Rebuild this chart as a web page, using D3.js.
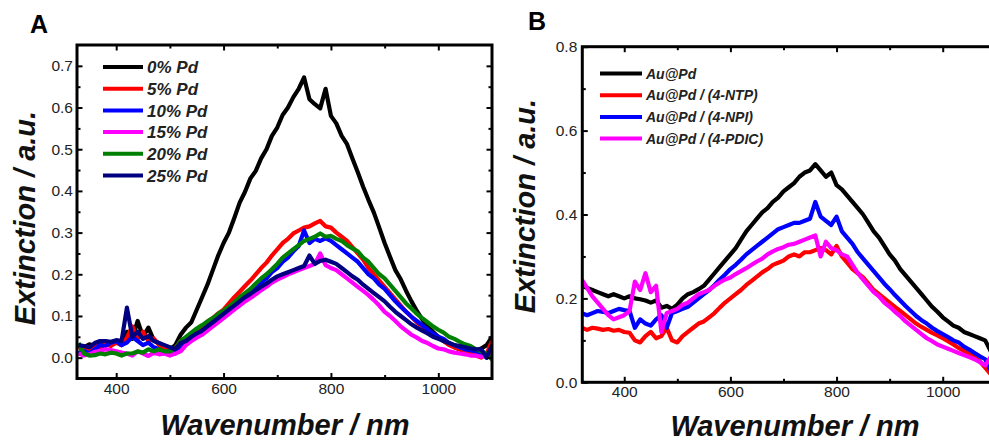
<!DOCTYPE html>
<html>
<head>
<meta charset="utf-8">
<script src="https://cdn.jsdelivr.net/npm/d3@7/dist/d3.min.js"></script>
<style>
  body { margin: 0; background: #fff; }
  svg { display: block; font-family: Arial, "Liberation Sans", sans-serif; }
</style>
</head>
<body>
<div id="chart"></div>
<script>
// panel A: extinction spectra for Au@Pd with growing Pd content
const wavelengthsA = d3.range(330, 1101, 10)
const pd0 = [
  0.030, 0.025, 0.032, 0.028, 0.036, 0.030, 0.034, 0.038, 0.030, 0.062,
  0.045, 0.088, 0.050, 0.072, 0.042, 0.034, 0.024, 0.020, 0.030, 0.055,
  0.072, 0.085, 0.115, 0.145, 0.175, 0.210, 0.245, 0.275, 0.300, 0.335,
  0.372, 0.398, 0.430, 0.448, 0.478, 0.500, 0.532, 0.552, 0.582, 0.600,
  0.625, 0.645, 0.672, 0.620, 0.608, 0.598, 0.645, 0.580, 0.562, 0.532,
  0.512, 0.478, 0.445, 0.410, 0.378, 0.348, 0.312, 0.275, 0.242, 0.210,
  0.188, 0.160, 0.135, 0.112, 0.092, 0.075, 0.062, 0.050, 0.040, 0.032,
  0.025, 0.020, 0.014, 0.012, 0.016, 0.022, 0.030, 0.050
]
const pd5 = [
  0.020, 0.026, 0.020, 0.030, 0.024, 0.032, 0.028, 0.036, 0.030, 0.048,
  0.075, 0.045, 0.062, 0.040, 0.046, 0.030, 0.022, 0.015, 0.022, 0.040,
  0.046, 0.056, 0.066, 0.075, 0.086, 0.095, 0.106, 0.115, 0.130, 0.145,
  0.158, 0.172, 0.185, 0.200, 0.215, 0.228, 0.245, 0.260, 0.275, 0.285,
  0.298, 0.305, 0.312, 0.315, 0.322, 0.328, 0.315, 0.312, 0.300, 0.290,
  0.280, 0.265, 0.250, 0.235, 0.215, 0.200, 0.185, 0.170, 0.155, 0.140,
  0.125, 0.110, 0.098, 0.085, 0.075, 0.065, 0.055, 0.048, 0.040, 0.030,
  0.025, 0.020, 0.015, 0.010, 0.005, 0.000, 0.010, 0.040
]
const pd10 = [
  0.010, 0.016, 0.010, 0.020, 0.030, 0.028, 0.036, 0.040, 0.030, 0.036,
  0.050, 0.040, 0.030, 0.036, 0.025, 0.020, 0.010, 0.016, 0.010, 0.028,
  0.040, 0.046, 0.055, 0.065, 0.072, 0.080, 0.090, 0.100, 0.110, 0.120,
  0.132, 0.145, 0.155, 0.168, 0.180, 0.190, 0.205, 0.215, 0.230, 0.240,
  0.255, 0.268, 0.305, 0.275, 0.285, 0.280, 0.286, 0.280, 0.270, 0.260,
  0.250, 0.240, 0.230, 0.215, 0.200, 0.190, 0.175, 0.165, 0.150, 0.135,
  0.122, 0.110, 0.098, 0.088, 0.078, 0.068, 0.058, 0.050, 0.045, 0.035,
  0.030, 0.025, 0.020, 0.018, 0.015, 0.010, 0.000, 0.020
]
const pd15 = [
  0.010, 0.005, 0.008, 0.014, 0.016, 0.020, 0.018, 0.015, 0.012, 0.010,
  0.005, 0.015, 0.010, 0.004, 0.012, 0.008, 0.010, 0.005, 0.010, 0.015,
  0.030, 0.040, 0.048, 0.055, 0.065, 0.075, 0.085, 0.095, 0.105, 0.115,
  0.125, 0.135, 0.143, 0.152, 0.162, 0.170, 0.180, 0.187, 0.193, 0.200,
  0.205, 0.210, 0.215, 0.220, 0.225, 0.250, 0.222, 0.215, 0.210, 0.200,
  0.190, 0.180, 0.170, 0.160, 0.150, 0.138, 0.125, 0.110, 0.100, 0.088,
  0.075, 0.065, 0.055, 0.048, 0.040, 0.035, 0.028, 0.022, 0.020, 0.015,
  0.012, 0.010, 0.008, 0.005, 0.005, 0.002, 0.005, 0.010
]
const pd20 = [
  0.035, 0.010, 0.005, 0.006, 0.010, 0.008, 0.012, 0.010, 0.005, 0.010,
  0.010, 0.015, 0.012, 0.020, 0.015, 0.020, 0.015, 0.015, 0.022, 0.040,
  0.050, 0.060, 0.070, 0.078, 0.087, 0.095, 0.105, 0.113, 0.122, 0.133,
  0.145, 0.155, 0.165, 0.178, 0.190, 0.200, 0.212, 0.225, 0.240, 0.250,
  0.260, 0.270, 0.280, 0.285, 0.290, 0.298, 0.290, 0.292, 0.285, 0.280,
  0.270, 0.262, 0.255, 0.240, 0.230, 0.215, 0.200, 0.190, 0.175, 0.160,
  0.145, 0.130, 0.118, 0.105, 0.095, 0.085, 0.075, 0.067, 0.060, 0.050,
  0.045, 0.038, 0.032, 0.028, 0.020, 0.015, 0.010, -0.005
]
const pd25 = [
  0.030, 0.028, 0.025, 0.035, 0.040, 0.040, 0.038, 0.042, 0.040, 0.120,
  0.050, 0.062, 0.045, 0.052, 0.040, 0.035, 0.030, 0.025, 0.020, 0.035,
  0.040, 0.050, 0.058, 0.065, 0.075, 0.085, 0.095, 0.105, 0.115, 0.125,
  0.135, 0.145, 0.153, 0.162, 0.170, 0.178, 0.187, 0.195, 0.200, 0.205,
  0.210, 0.215, 0.220, 0.245, 0.225, 0.232, 0.235, 0.230, 0.225, 0.215,
  0.205, 0.195, 0.187, 0.175, 0.165, 0.155, 0.145, 0.135, 0.122, 0.110,
  0.100, 0.090, 0.080, 0.072, 0.065, 0.058, 0.050, 0.045, 0.040, 0.035,
  0.030, 0.028, 0.025, 0.022, 0.020, 0.020, 0.000, 0.030
]
const namesA = ['0% Pd', '5% Pd', '10% Pd', '15% Pd', '20% Pd', '25% Pd']
const colorsA = ['#000000', '#ff0000', '#0000ff', '#ff00ff', '#008000', '#000080']

// panel B: Au@Pd with adsorbed molecules
const wavelengthsB = d3.range(320, 1101, 10)
const auPd = [
  0.230, 0.225, 0.220, 0.215, 0.210, 0.205, 0.210, 0.205, 0.200, 0.205,
  0.200, 0.198, 0.195, 0.190, 0.195, 0.178, 0.182, 0.175, 0.185, 0.200,
  0.210, 0.215, 0.222, 0.230, 0.245, 0.260, 0.275, 0.290, 0.305, 0.320,
  0.340, 0.360, 0.375, 0.390, 0.405, 0.415, 0.430, 0.440, 0.455, 0.465,
  0.475, 0.490, 0.500, 0.505, 0.520, 0.505, 0.490, 0.500, 0.470, 0.460,
  0.445, 0.430, 0.415, 0.400, 0.380, 0.360, 0.345, 0.325, 0.305, 0.290,
  0.270, 0.255, 0.240, 0.225, 0.210, 0.195, 0.180, 0.168, 0.155, 0.145,
  0.135, 0.130, 0.120, 0.115, 0.110, 0.105, 0.100, 0.075, 0.100
]
const auPdNTP = [
  0.130, 0.125, 0.130, 0.128, 0.125, 0.127, 0.123, 0.125, 0.120, 0.118,
  0.100, 0.095, 0.110, 0.120, 0.105, 0.110, 0.130, 0.100, 0.095, 0.110,
  0.120, 0.130, 0.140, 0.145, 0.155, 0.165, 0.178, 0.190, 0.200, 0.210,
  0.220, 0.232, 0.242, 0.252, 0.262, 0.270, 0.280, 0.285, 0.290, 0.300,
  0.305, 0.300, 0.310, 0.310, 0.315, 0.320, 0.315, 0.305, 0.325, 0.300,
  0.285, 0.270, 0.260, 0.250, 0.235, 0.220, 0.210, 0.200, 0.190, 0.180,
  0.170, 0.160, 0.150, 0.140, 0.132, 0.125, 0.118, 0.112, 0.105, 0.098,
  0.090, 0.082, 0.075, 0.068, 0.060, 0.050, 0.035, 0.020, 0.060
]
const auPdNPI = [
  0.165, 0.160, 0.165, 0.170, 0.168, 0.165, 0.170, 0.175, 0.172, 0.170,
  0.130, 0.150, 0.140, 0.135, 0.150, 0.160, 0.130, 0.165, 0.170, 0.175,
  0.180, 0.190, 0.200, 0.210, 0.220, 0.232, 0.245, 0.257, 0.270, 0.280,
  0.292, 0.305, 0.315, 0.325, 0.335, 0.345, 0.355, 0.365, 0.370, 0.375,
  0.380, 0.380, 0.385, 0.390, 0.430, 0.395, 0.385, 0.375, 0.395, 0.360,
  0.345, 0.330, 0.310, 0.295, 0.280, 0.265, 0.250, 0.235, 0.222, 0.208,
  0.195, 0.182, 0.170, 0.158, 0.148, 0.140, 0.130, 0.122, 0.115, 0.108,
  0.100, 0.095, 0.085, 0.078, 0.070, 0.062, 0.055, 0.030, 0.070
]
const auPdPDIC = [
  0.245, 0.225, 0.205, 0.190, 0.175, 0.160, 0.150, 0.155, 0.160, 0.170,
  0.240, 0.220, 0.260, 0.215, 0.230, 0.120, 0.165, 0.170, 0.175, 0.185,
  0.190, 0.200, 0.210, 0.215, 0.220, 0.230, 0.238, 0.245, 0.250, 0.258,
  0.265, 0.272, 0.280, 0.288, 0.295, 0.305, 0.312, 0.318, 0.322, 0.328,
  0.330, 0.335, 0.340, 0.345, 0.350, 0.300, 0.335, 0.320, 0.315, 0.305,
  0.300, 0.280, 0.260, 0.245, 0.230, 0.215, 0.205, 0.190, 0.180, 0.168,
  0.158, 0.145, 0.135, 0.125, 0.115, 0.105, 0.098, 0.090, 0.085, 0.080,
  0.075, 0.070, 0.065, 0.060, 0.055, 0.048, 0.040, 0.060, 0.080
]
const namesB = ['Au@Pd', 'Au@Pd / (4-NTP)', 'Au@Pd / (4-NPI)', 'Au@Pd / (4-PDIC)']
const colorsB = ['#000000', '#ff0000', '#0000ff', '#ff00ff']

const xMajor = [400, 600, 800, 1000]
const xMinor = [500, 700, 900]

const svg = d3.select('#chart')
  .append('svg')
  .attr('width', 989)
  .attr('height', 443)

function drawPanel(opts) {
  const x = d3.scaleLinear().domain(opts.xDomain).range(opts.xRange)
  const y = d3.scaleLinear().domain(opts.yDomain).range(opts.yRange)
  const [left, right] = opts.xRange
  const [bottom, top] = opts.yRange
  const g = svg.append('g')

  g.append('clipPath').attr('id', opts.id)
    .append('rect')
    .attr('x', left).attr('y', top)
    .attr('width', right - left).attr('height', bottom - top)

  const line = d3.line()
    .x(d => x(d[0]))
    .y(d => y(d[1]))

  // spectra are noisy in the original, so the traces are drawn thick
  g.append('g')
    .attr('clip-path', `url(#${opts.id})`)
    .selectAll('path')
    .data(opts.series)
    .join('path')
    .attr('d', s => line(opts.wavelengths.map((w, i) => [w, s.values[i]])))
    .attr('fill', 'none')
    .attr('stroke', s => s.color)
    .attr('stroke-width', 4.2)
    .attr('stroke-linejoin', 'round')

  const tickStyle = sel => {
    sel.select('.domain').remove()
    sel.selectAll('line').attr('stroke', '#000').attr('stroke-width', 2)
    sel.selectAll('text').attr('font-size', 15.5).attr('fill', '#222')
      .attr('font-family', 'Arial, "Liberation Sans", sans-serif')
  }

  // major + minor ticks, all pointing inward
  g.append('g').attr('transform', `translate(0,${bottom})`)
    .call(d3.axisBottom(x).tickValues(xMajor).tickSize(-5.5).tickPadding(4).tickFormat(d3.format('d')))
    .call(tickStyle)
  g.append('g').attr('transform', `translate(0,${bottom})`)
    .call(d3.axisBottom(x).tickValues(xMinor).tickSize(-3.5).tickFormat(''))
    .call(tickStyle)
  g.append('g').attr('transform', `translate(0,${top})`)
    .call(d3.axisTop(x).tickValues(xMajor).tickSize(-5.5).tickFormat(''))
    .call(tickStyle)
  g.append('g').attr('transform', `translate(0,${top})`)
    .call(d3.axisTop(x).tickValues(xMinor).tickSize(-3.5).tickFormat(''))
    .call(tickStyle)
  g.append('g').attr('transform', `translate(${left},0)`)
    .call(d3.axisLeft(y).tickValues(opts.yMajor).tickSize(-5.5).tickPadding(opts.yPad).tickFormat(d3.format('.1f')))
    .call(tickStyle)
  g.append('g').attr('transform', `translate(${left},0)`)
    .call(d3.axisLeft(y).tickValues(opts.yMinor).tickSize(-3.5).tickFormat(''))
    .call(tickStyle)
  g.append('g').attr('transform', `translate(${right},0)`)
    .call(d3.axisRight(y).tickValues(opts.yMajor).tickSize(-5.5).tickFormat(''))
    .call(tickStyle)
  g.append('g').attr('transform', `translate(${right},0)`)
    .call(d3.axisRight(y).tickValues(opts.yMinor).tickSize(-3.5).tickFormat(''))
    .call(tickStyle)

  g.append('rect')
    .attr('x', left).attr('y', top)
    .attr('width', right - left).attr('height', bottom - top)
    .attr('fill', 'none')
    .attr('stroke', '#000')
    .attr('stroke-width', 3)

  // legend
  const lg = opts.legend
  const rows = g.selectAll('.legend-row')
    .data(opts.series)
    .join('g')
    .attr('class', 'legend-row')
    .attr('transform', (d, i) => `translate(${lg.x},${lg.y + i * lg.step})`)
  rows.append('line')
    .attr('x1', 0).attr('x2', lg.len)
    .attr('stroke', d => d.color)
    .attr('stroke-width', 4)
  rows.append('text')
    .attr('x', lg.len + 4)
    .attr('y', lg.size * 0.36)
    .attr('font-size', lg.size)
    .attr('font-weight', 'bold')
    .attr('font-style', 'italic')
    .attr('fill', '#222')
    .text(d => d.name)

  // axis titles and panel letter
  g.append('text')
    .attr('transform', `translate(${opts.yTitle[0]},${opts.yTitle[1]}) rotate(-90)`)
    .attr('text-anchor', 'middle')
    .attr('font-size', 29)
    .attr('font-weight', 'bold')
    .attr('font-style', 'italic')
    .attr('fill', '#111')
    .text('Extinction / a.u.')
  g.append('text')
    .attr('x', opts.xTitle[0]).attr('y', opts.xTitle[1])
    .attr('text-anchor', 'middle')
    .attr('font-size', 29)
    .attr('font-weight', 'bold')
    .attr('font-style', 'italic')
    .attr('fill', '#111')
    .text('Wavenumber / nm')
  g.append('text')
    .attr('x', opts.letter[0]).attr('y', opts.letter[1])
    .attr('font-size', 25)
    .attr('font-weight', 'bold')
    .attr('fill', '#000')
    .text(opts.letter[2])
}

drawPanel({
  id: 'clipA',
  xDomain: [327, 1100], xRange: [77, 492],
  yDomain: [-0.05, 0.75], yRange: [378.5, 45],
  yMajor: [0, 0.1, 0.2, 0.3, 0.4, 0.5, 0.6, 0.7],
  yMinor: [-0.05, 0.05, 0.15, 0.25, 0.35, 0.45, 0.55, 0.65],
  yPad: 4,
  wavelengths: wavelengthsA,
  series: [pd0, pd5, pd10, pd15, pd20, pd25].map((v, i) => ({ name: namesA[i], color: colorsA[i], values: v })),
  legend: { x: 103, y: 67, step: 21.7, len: 40, size: 17 },
  yTitle: [35, 218],
  xTitle: [285, 435],
  letter: [30, 33, 'A']
})

drawPanel({
  id: 'clipB',
  xDomain: [321, 1100], xRange: [582.3, 995.8],
  yDomain: [0, 0.8], yRange: [382.3, 46.7],
  yMajor: [0, 0.2, 0.4, 0.6, 0.8],
  yMinor: [0.1, 0.3, 0.5, 0.7],
  yPad: 5,
  wavelengths: wavelengthsB,
  series: [auPd, auPdNTP, auPdNPI, auPdPDIC].map((v, i) => ({ name: namesB[i], color: colorsB[i], values: v })),
  legend: { x: 600, y: 73.5, step: 21.7, len: 42, size: 14 },
  yTitle: [535, 206],
  xTitle: [795, 436],
  letter: [528, 30, 'B']
})
</script>
</body>
</html>
